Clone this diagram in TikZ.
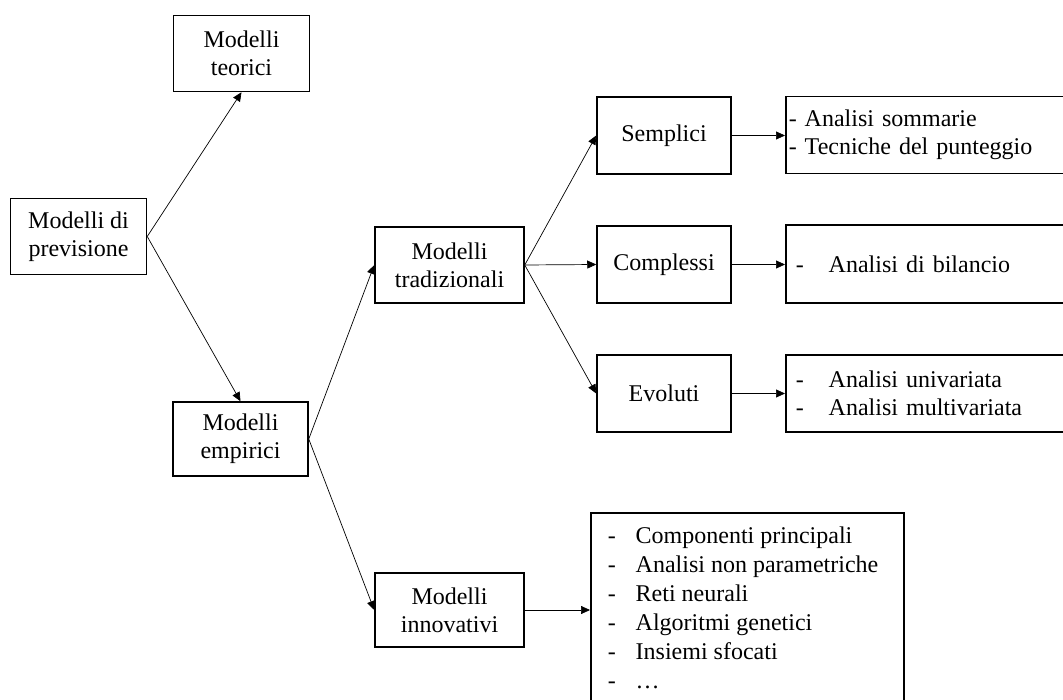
\documentclass[tikz,border=0pt]{standalone}
\usepackage{fontspec}
\setmainfont{Liberation Serif}
\usetikzlibrary{arrows.meta}
\begin{document}
\begin{tikzpicture}[x=1pt,y=-1pt,
  box/.style={draw,line width=1.5pt,align=center,minimum width=136pt,minimum height=76pt,inner sep=2pt,font=\fontsize{24}{28}\selectfont},
  wbox/.style={box,minimum width=149pt},
  tbox/.style={draw,line width=1.5pt,anchor=west,text width=284pt,align=left,inner xsep=3pt,inner ysep=2pt,minimum height=77pt,font=\fontsize{24}{28}\selectfont},
  conn/.style={line width=0.7pt,-{Triangle[length=9pt,width=8pt]}}]
\useasboundingbox (0,0) rectangle (1063,700);
\fill[white] (0,0) rectangle (1063,700);
\clip (0,0) rectangle (1063,700);
% left column
\node[box] (prev) at (78.5,236.5) {Modelli di\\previsione};
\node[box] (teor) at (241.5,53.5) {Modelli\\teorici};
\node[box,minimum width=135pt,minimum height=74pt] (emp) at (240.5,439) {Modelli\\empirici};
% middle
\node[wbox] (trad) at (449.5,265) {Modelli\\tradizionali};
\node[wbox,minimum height=74pt] (innov) at (449.5,610) {Modelli\\innovativi};
\node[box,minimum width=134pt,minimum height=77pt] (sempl) at (664,135.5) {Semplici};
\node[box,minimum width=134pt,minimum height=77pt] (compl) at (664,264.5) {Complessi};
\node[box,minimum width=134pt,minimum height=77pt] (evol) at (664,393.5) {Evoluti};
% right text boxes
\node[tbox] (t1) at (785,135) {- Analisi sommarie\\- Tecniche del punteggio};
\node[tbox,minimum height=78pt] (t2) at (785,264) {\makebox[40pt][l]{\hspace*{7pt}-}Analisi di bilancio};
\node[tbox] (t3) at (785,393.5) {\makebox[40pt][l]{\hspace*{7pt}-}Analisi univariata\\\makebox[40pt][l]{\hspace*{7pt}-}Analisi multivariata};
% list box
\node[draw,line width=1.5pt,anchor=north west,inner sep=0pt] (list) at (590,512)
  {\parbox[t][215pt][t]{313pt}{\fontsize{24}{29}\selectfont\raggedright
   \rule{0pt}{31pt}\hspace*{17pt}\makebox[28pt][l]{-}Componenti principali\\
   \hspace*{17pt}\makebox[28pt][l]{-}Analisi non parametriche\\
   \hspace*{17pt}\makebox[28pt][l]{-}Reti neurali\\
   \hspace*{17pt}\makebox[28pt][l]{-}Algoritmi genetici\\
   \hspace*{17pt}\makebox[28pt][l]{-}Insiemi sfocati\\
   \hspace*{17pt}\makebox[28pt][l]{-}…}};
% connectors
\draw[conn] (prev.east) -- (teor.south);
\draw[conn] (prev.east) -- (emp.north);
\draw[conn] (emp.east) -- (trad.west);
\draw[conn] (emp.east) -- (innov.west);
\draw[conn] (trad.east) -- (sempl.west);
\draw[conn] (trad.east) -- (compl.west);
\draw[conn] (trad.east) -- (evol.west);
\draw[conn] (sempl.east) -- (sempl.east -| t1.west);
\draw[conn] (compl.east) -- (compl.east -| t2.west);
\draw[conn] (evol.east) -- (evol.east -| t3.west);
\draw[conn] (innov.east) -- (innov.east -| list.west);
\end{tikzpicture}
\end{document}
